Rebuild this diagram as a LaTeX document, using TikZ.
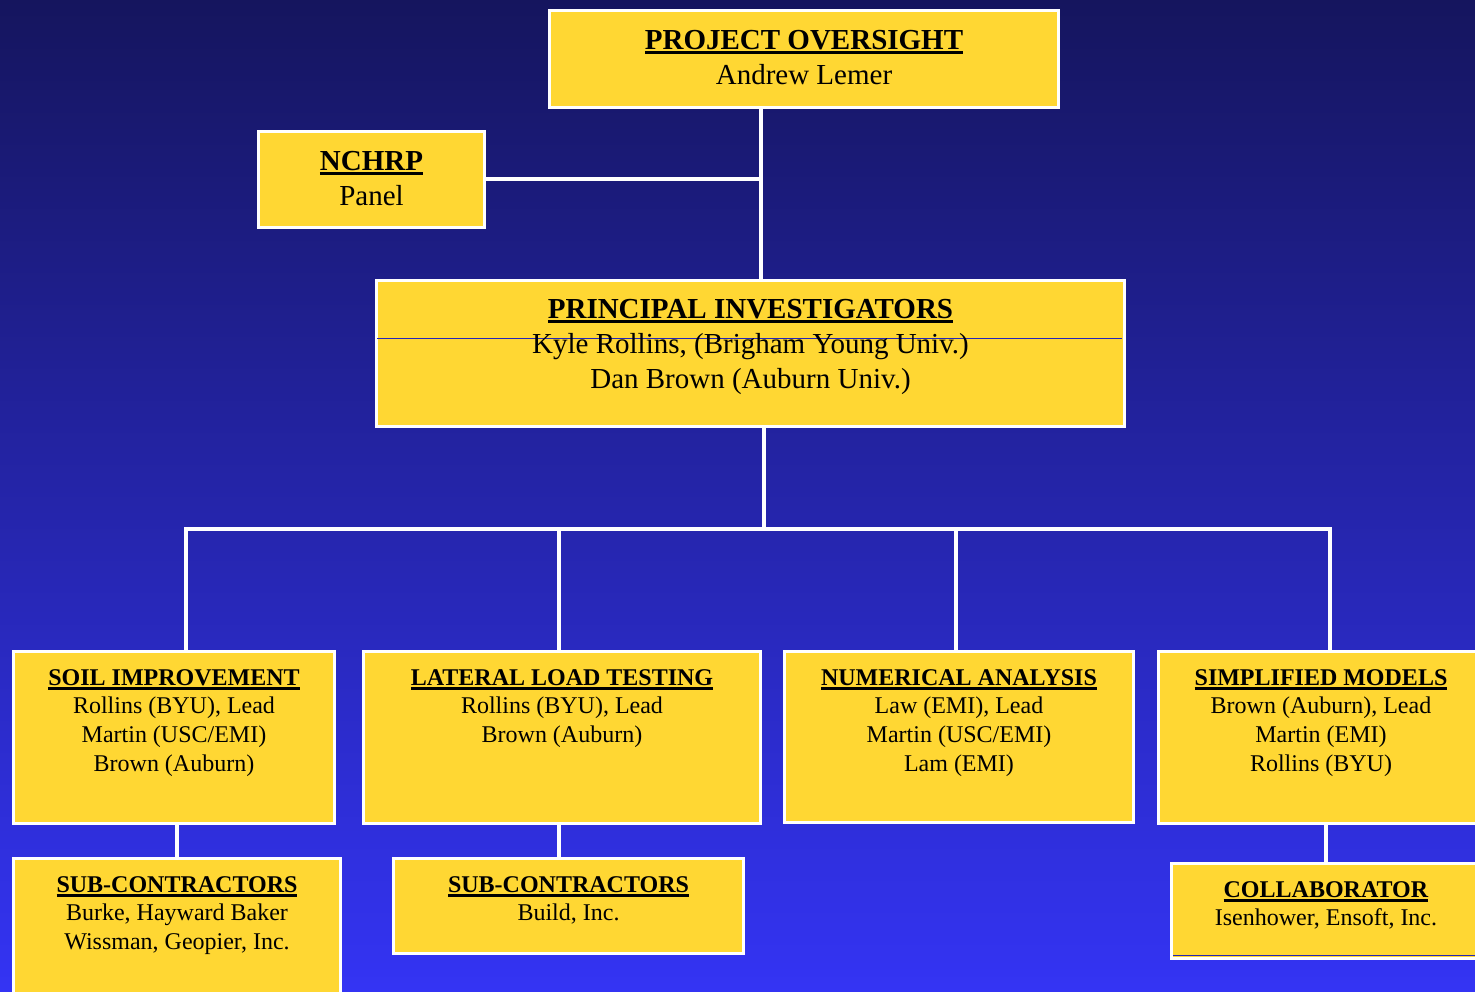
\documentclass[tikz,border=0pt]{standalone}
\usepackage{fontspec}
\setmainfont{Liberation Serif}
\usetikzlibrary{positioning}
\definecolor{orgNavy}{HTML}{15155E}
\definecolor{orgBlue}{HTML}{3434F4}
\definecolor{orgYellow}{HTML}{FFD733}
\definecolor{orgSeam}{HTML}{2626B8}
\newsavebox{\hdbox}
\newcommand{\hd}[1]{\leavevmode\sbox{\hdbox}{\textbf{#1}}\rlap{\vrule width\wd\hdbox height -1.8pt depth 4.6pt}\usebox{\hdbox}}

\begin{document}
\begin{tikzpicture}[x=1pt,y=-1pt,
  box/.style={draw=white,fill=orgYellow,line width=3pt,inner sep=0pt,anchor=north west},
  big/.style={font=\fontsize{29}{35}\selectfont,align=center,inner sep=0pt},
  small/.style={font=\fontsize{24}{28.8}\selectfont,align=center,inner sep=0pt},
  link/.style={white,line width=4pt},
  seam/.style={orgSeam,line width=1pt}]
\useasboundingbox (0,0) rectangle (1475,992);
\shade[top color=orgNavy,bottom color=orgBlue] (0,0) rectangle (1475,992);
% boxes
\node[box,minimum width=509pt,minimum height=97pt] (po) at (548,9) {};
\node[box,minimum width=226pt,minimum height=96pt] (nchrp) at (257,130) {};
\node[box,minimum width=748pt,minimum height=146pt] (pi) at (375,279) {};
\node[box,minimum width=321pt,minimum height=172pt] (soil) at (12,650) {};
\node[box,minimum width=397pt,minimum height=172pt] (lat) at (362,650) {};
\node[box,minimum width=349pt,minimum height=171pt] (num) at (783,650) {};
\node[box,minimum width=325pt,minimum height=172pt] (simp) at (1157,650) {};
\node[box,minimum width=327pt,minimum height=150pt] (subA) at (12,857) {};
\node[box,minimum width=350pt,minimum height=95pt] (subB) at (392,857) {};
\node[box,minimum width=309pt,minimum height=95pt] (coll) at (1170,862) {};
\draw[seam] ([xshift=2pt,yshift=-59pt]pi.north west) -- ([xshift=-4pt,yshift=-59pt]pi.north east);
\draw[seam] ([xshift=3pt,yshift=5pt]coll.south west) -- ([yshift=5pt]coll.south east);
% texts
\node[big,below=21pt of po.north] (poT) {\hd{PROJECT OVERSIGHT}\\Andrew Lemer};
\node[big,below=21pt of nchrp.north] (nchrpT) {\hd{NCHRP}\\Panel};
\node[big,below=20pt of pi.north] (piT) {\hd{PRINCIPAL INVESTIGATORS}\\Kyle Rollins, (Brigham Young Univ.)\\Dan Brown (Auburn Univ.)};
\node[small,below=19pt of soil.north] (soilT) {\hd{SOIL IMPROVEMENT}\\Rollins (BYU), Lead\\Martin (USC/EMI)\\Brown (Auburn)};
\node[small,below=19pt of lat.north] (latT) {\hd{LATERAL LOAD TESTING}\\Rollins (BYU), Lead\\Brown (Auburn)};
\node[small,below=19pt of num.north] (numT) {\hd{NUMERICAL ANALYSIS}\\Law (EMI), Lead\\Martin (USC/EMI)\\Lam (EMI)};
\node[small,below=19pt of simp.north] (simpT) {\hd{SIMPLIFIED MODELS}\\Brown (Auburn), Lead\\Martin (EMI)\\Rollins (BYU)};
\node[small,below=19pt of subA.north] (subAT) {\hd{SUB-CONTRACTORS}\\Burke, Hayward Baker\\Wissman, Geopier, Inc.};
\node[small,below=19pt of subB.north] (subBT) {\hd{SUB-CONTRACTORS}\\Build, Inc.};
\node[small,below=19pt of coll.north] (collT) {\hd{COLLABORATOR}\\Isenhower, Ensoft, Inc.};
% connectors
\coordinate (trunk) at (761,200);
\coordinate (bus) at (764,529);
\coordinate (dSoil) at ([xshift=12pt]soil.north);
\coordinate (dLat) at ([xshift=-3pt]lat.north);
\coordinate (dNum) at ([xshift=-3pt]num.north);
\coordinate (dSimp) at ([xshift=9pt]simp.north);
\draw[link] (po.south -| trunk) -- (pi.north -| trunk);
\draw[link] (nchrp.east) -- (nchrp.east -| trunk);
\draw[link] (pi.south -| bus) -- (bus);
\draw[link] (dSoil) |- (bus) -| (dSimp);
\draw[link] (dLat |- bus) -- (dLat);
\draw[link] (dNum |- bus) -- (dNum);
\draw[link] (soil.south -| subA.north) -- (subA.north);
\draw[link] (dLat |- lat.south) -- (dLat |- subB.north);
\draw[link] (simp.south -| coll.north) -- (coll.north);
\end{tikzpicture}
\end{document}
